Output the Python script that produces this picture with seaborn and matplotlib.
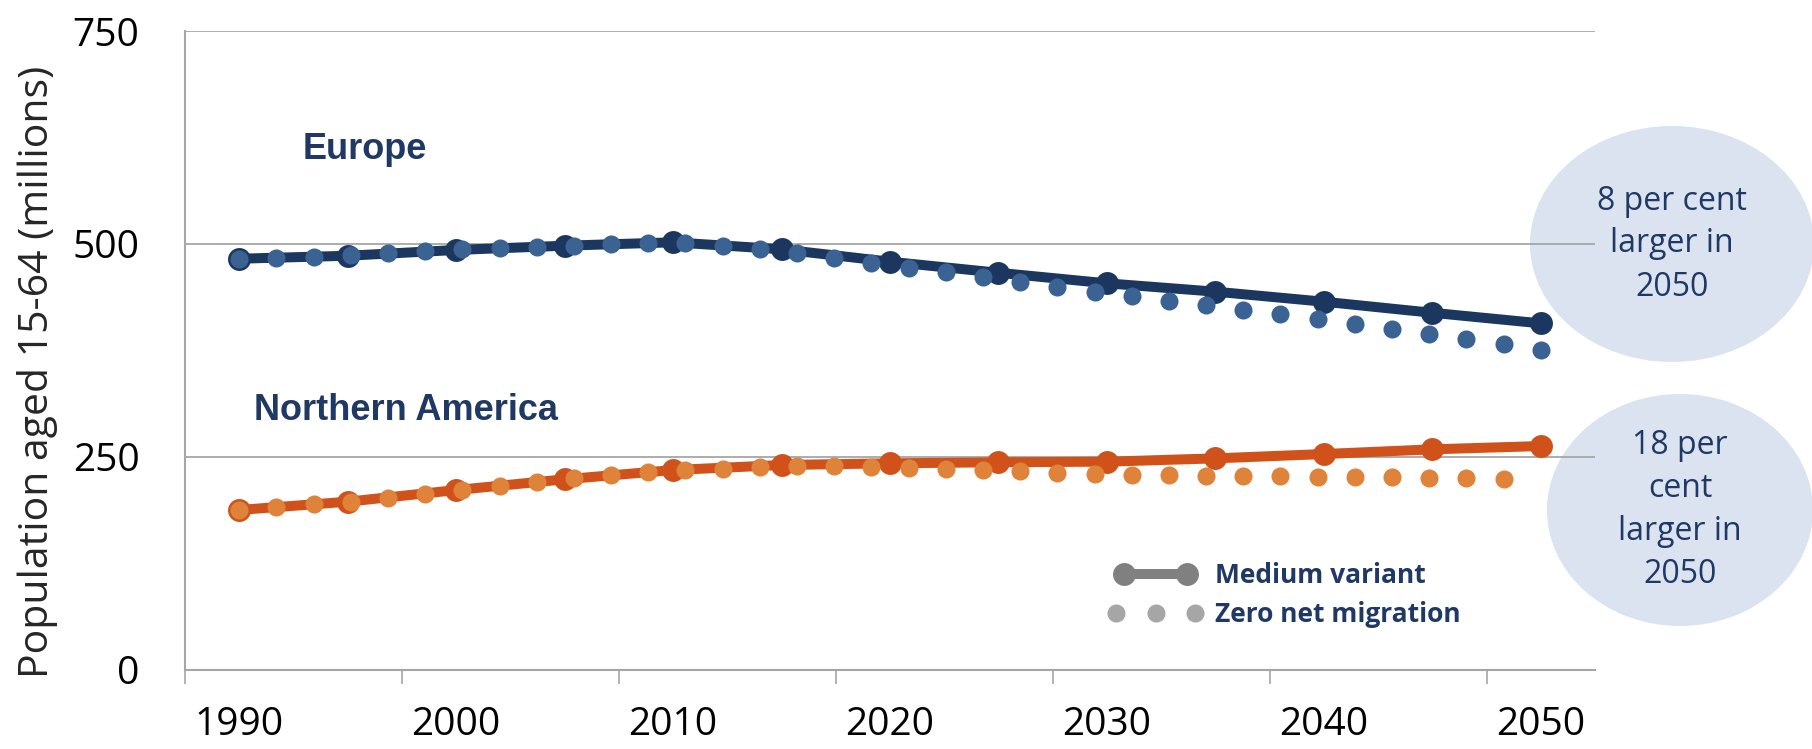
import numpy as np
import pandas as pd
import seaborn as sns
import matplotlib
matplotlib.use("Agg")
import matplotlib.pyplot as plt
from matplotlib.lines import Line2D
from matplotlib.patches import Ellipse
from matplotlib.legend_handler import HandlerLine2D
from matplotlib.ticker import FixedLocator

# ---------------- data ----------------
years_medium = [1990, 1995, 2000, 2005, 2010, 2015, 2020, 2025, 2030, 2035, 2040, 2045, 2050]
europe_medium = [482.5, 486.0, 492.8, 497.8, 501.8, 493.6, 479.0, 466.0, 453.6, 443.8, 432.0, 419.0, 406.6]
namerica_medium = [187.4, 197.1, 210.8, 223.4, 234.3, 240.2, 242.2, 243.4, 244.1, 248.0, 253.1, 258.6, 262.5]

europe_zero = [482.6, 483.8, 485.0, 486.9, 488.9, 491.2, 493.6, 494.8, 496.3, 497.9, 499.4, 501.4,
               500.6, 497.5, 494.0, 489.6, 483.4, 477.7, 472.0, 466.5, 460.7, 454.8, 449.3, 443.8,
               438.3, 433.2, 428.2, 422.7, 417.2, 411.7, 405.5, 400.0, 394.1, 387.9, 382.0, 375.3]
namerica_zero = [187.4, 190.5, 194.0, 197.1, 201.8, 206.5, 211.2, 215.5, 220.2, 224.6, 228.1, 231.6,
                 234.3, 235.9, 238.3, 238.6, 238.6, 238.3, 237.1, 235.9, 234.3, 232.8, 230.8, 229.3,
                 228.5, 228.1, 227.7, 227.3, 226.9, 226.5, 226.1, 225.7, 225.3, 224.6, 223.4]
# zero-migration series is on a finer category axis spanning 1990-2050
zero_positions = np.linspace(1990, 2050, len(europe_zero))

year_ticks = [1990, 2000, 2010, 2020, 2030, 2040, 2050]
value_ticks = [0, 250, 500, 750]

region_labels = ["Europe", "Northern America"]
legend_labels = ["Medium variant", "Zero net migration"]
bubble_texts = ["8 per cent\nlarger in\n2050", "18 per\ncent\nlarger in\n2050"]

# ---------------- style ----------------
sns.set_theme(style="white")
plt.rcParams["font.family"] = ["Open Sans", "DejaVu Sans"]

NAVY = "#1b3760"
BLUE_DOT = "#3a6293"
ORANGE = "#d0521a"
ORANGE_DOT = "#df823a"
TEXT_NAVY = "#1f3864"
GRID = "#a6a6a6"
BUBBLE = "#dae3ef"

W, H = 1812, 749
fig = plt.figure(figsize=(W / 100, H / 100), dpi=100)
ax_l, ax_r, ax_t, ax_b = 185, 1595, 31, 669.5
ax = fig.add_axes([ax_l / W, 1 - ax_b / H, (ax_r - ax_l) / W, (ax_b - ax_t) / H])

LW = 7.2
BIG = 16.5
SMALL_S = 13.0 ** 2

zero_df_eu = pd.DataFrame({"x": zero_positions, "y": europe_zero})
zero_df_na = pd.DataFrame({"x": zero_positions[:len(namerica_zero)], "y": namerica_zero})
med_df = pd.DataFrame({"x": years_medium, "eu": europe_medium, "na": namerica_medium})

sns.lineplot(data=med_df, x="x", y="eu", ax=ax, color=NAVY, lw=LW, marker="o",
             markersize=BIG, markeredgewidth=0, zorder=3)
sns.lineplot(data=med_df, x="x", y="na", ax=ax, color=ORANGE, lw=LW, marker="o",
             markersize=BIG, markeredgewidth=0, zorder=3)
sns.scatterplot(data=zero_df_eu, x="x", y="y", ax=ax, color=BLUE_DOT, s=SMALL_S,
                linewidth=0, zorder=4)
sns.scatterplot(data=zero_df_na, x="x", y="y", ax=ax, color=ORANGE_DOT, s=SMALL_S,
                linewidth=0, zorder=4)

# ---------------- axes ----------------
ax.set_xlim(1987.5, 2052.5)
ax.set_ylim(0, 750)
ax.set_xticks(year_ticks)
ax.set_xticklabels([str(y) for y in year_ticks])
ax.xaxis.set_minor_locator(FixedLocator([t - 2.5 for t in year_ticks]))
ax.set_yticks(value_ticks)
ax.set_yticklabels([str(v) for v in value_ticks])
ax.set_xlabel("")
ax.set_ylabel("Population aged 15-64 (millions)", fontsize=29.5, va="center")
ax.yaxis.set_label_coords((38 - ax_l) / (ax_r - ax_l), 1 - (372 - ax_t) / (ax_b - ax_t))

ax.tick_params(axis="y", which="major", length=10.8, width=1.2, color=GRID, pad=22,
               labelsize=28, labelcolor="black")
ax.tick_params(axis="x", which="major", length=0, pad=26, labelsize=28, labelcolor="black")
ax.tick_params(axis="x", which="minor", length=10, width=1.2, color=GRID, bottom=True)

ax.grid(axis="y", color=GRID, lw=1.3)
ax.grid(axis="x", visible=False)
ax.set_axisbelow(True)
for side in ["top", "right"]:
    ax.spines[side].set_visible(False)
for side in ["left", "bottom"]:
    ax.spines[side].set_color(GRID)
    ax.spines[side].set_linewidth(1.5)

# ---------------- region labels ----------------
ax.text(1992.9, 600, region_labels[0], fontsize=26, fontweight="bold", color=TEXT_NAVY,
        family=["Liberation Sans", "DejaVu Sans"], ha="left", va="baseline")
ax.text(1990.7, 293, region_labels[1], fontsize=26, fontweight="bold", color=TEXT_NAVY,
        family=["Liberation Sans", "DejaVu Sans"], ha="left", va="baseline")

# ---------------- bubbles ----------------
def px2ax(px, py):
    return (px - ax_l) / (ax_r - ax_l), 1 - (py - ax_t) / (ax_b - ax_t)

for (cx, cy, w, h), txt in zip([(1672, 244, 284, 236), (1680, 510, 266, 232)], bubble_texts):
    ex, ey = px2ax(cx, cy)
    e = Ellipse((ex, ey), w / (ax_r - ax_l), h / (ax_b - ax_t), transform=ax.transAxes,
                facecolor=BUBBLE, edgecolor="none", clip_on=False, zorder=0.1)
    ax.add_patch(e)
    ax.text(ex, ey, txt, transform=ax.transAxes, ha="center", va="center", fontsize=23,
            color=TEXT_NAVY, linespacing=1.4, zorder=5, clip_on=False)

# ---------------- legend ----------------
h_med = Line2D([0], [0], color="#808080", lw=LW, marker="o", markersize=BIG, markeredgewidth=0)
h_zero = Line2D([0], [0], color="#a6a6a6", ls="none", marker="o", markersize=13, markeredgewidth=0)
lx, ly = px2ax(1108, 562)
leg = ax.legend([h_med, h_zero], legend_labels, loc="upper left", bbox_to_anchor=(lx, ly),
                frameon=False, borderpad=0, borderaxespad=0, handlelength=3.6,
                handletextpad=0.45, labelspacing=0.45,
                handler_map={h_med: HandlerLine2D(numpoints=2, marker_pad=0.6),
                             h_zero: HandlerLine2D(numpoints=3)},
                prop={"family": ["Open Sans", "DejaVu Sans"], "weight": "bold", "size": 19})
for t in leg.get_texts():
    t.set_color(TEXT_NAVY)

fig.savefig("out.png", dpi=100)
